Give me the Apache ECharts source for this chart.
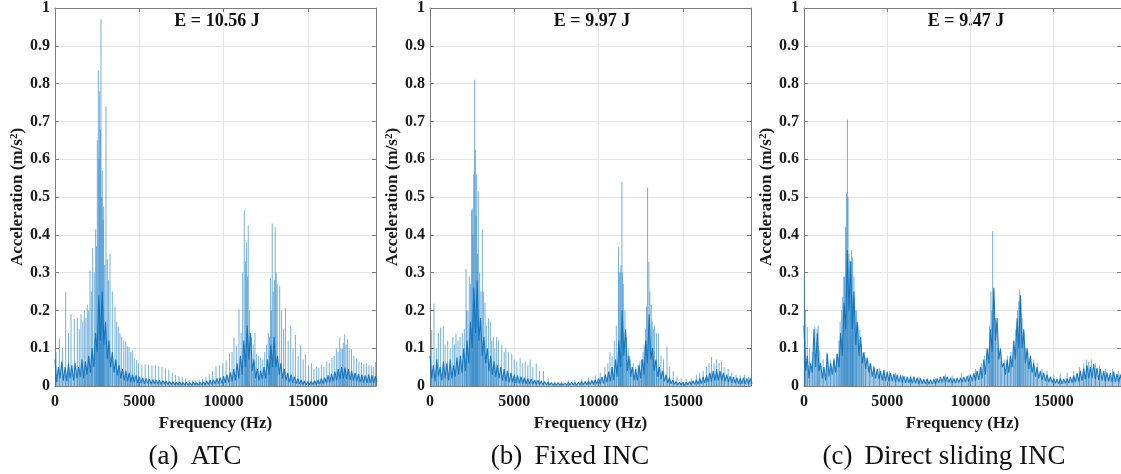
<!DOCTYPE html>
<html>
<head>
<meta charset="utf-8">
<script src="https://cdn.jsdelivr.net/npm/echarts@6/dist/echarts.min.js"></script>
<style>
  html, body { margin: 0; padding: 0; background: #ffffff; overflow: hidden; }
  #chart { width: 1121px; height: 474px; }
</style>
</head>
<body>
<div id="chart"></div>
<script>
// ---- spectrum data -------------------------------------------------------
// FFT bin spacing of the band traces (Hz) and the upper frequency limit
const BIN_HZ = 100;
const F_MAX = 19040;

// Broadband part of each spectrum, one value per 100 Hz bin (m/s^2)
const atcBand = [
  .07,.01,.05,.02,.065,.015,.05,.012,.06,.02,
  .055,.015,.06,.02,.05,.025,.07,.02,.065,.03,
  .08,.035,.1,.05,.14,.09,.24,.12,.25,.11,
  .17,.07,.12,.05,.09,.035,.07,.028,.055,.02,
  .045,.015,.04,.012,.035,.01,.03,.01,.028,.008,
  .025,.008,.022,.006,.02,.007,.018,.005,.017,.006,
  .016,.005,.015,.004,.014,.005,.013,.004,.012,.004,
  .011,.003,.01,.003,.011,.002,.009,.003,.01,.002,
  .009,.002,.01,.003,.009,.002,.01,.003,.011,.003,
  .013,.004,.015,.004,.017,.005,.02,.006,.022,.007,
  .026,.008,.03,.01,.036,.012,.045,.015,.06,.02,
  .08,.03,.12,.05,.16,.07,.14,.04,.07,.02,
  .045,.015,.04,.018,.05,.02,.07,.03,.11,.05,
  .13,.05,.08,.03,.06,.02,.045,.015,.035,.01,
  .03,.008,.025,.006,.02,.005,.016,.004,.013,.003,
  .012,.003,.012,.004,.014,.004,.016,.005,.02,.006,
  .022,.008,.028,.01,.032,.012,.038,.015,.045,.018,
  .05,.02,.048,.018,.045,.016,.04,.014,.035,.012,
  .032,.01,.03,.009,.028,.008,.03,.009,.028,.008,
  .026,.01
];

const fixedBand = [
  .08,.02,.055,.012,.07,.025,.05,.015,.065,.02,
  .06,.015,.07,.02,.055,.025,.075,.03,.08,.035,
  .1,.04,.12,.06,.17,.1,.26,.14,.28,.12,
  .18,.08,.13,.06,.1,.04,.08,.03,.065,.025,
  .055,.02,.05,.015,.045,.012,.04,.01,.035,.01,
  .03,.008,.028,.007,.025,.006,.022,.006,.02,.005,
  .018,.005,.016,.004,.015,.004,.013,.003,.012,.003,
  .01,.003,.009,.002,.008,.002,.009,.002,.008,.002,
  .008,.002,.009,.002,.01,.003,.009,.002,.01,.003,
  .011,.003,.012,.003,.013,.004,.015,.004,.017,.005,
  .02,.006,.024,.007,.03,.01,.038,.012,.05,.015,
  .07,.025,.12,.05,.2,.08,.15,.04,.08,.025,
  .05,.015,.045,.015,.055,.02,.07,.03,.12,.06,
  .19,.07,.1,.04,.07,.025,.05,.018,.04,.012,
  .03,.008,.022,.006,.016,.004,.012,.003,.01,.003,
  .009,.002,.01,.003,.012,.003,.014,.004,.016,.005,
  .02,.006,.024,.008,.028,.01,.035,.012,.04,.014,
  .045,.015,.04,.014,.035,.012,.03,.01,.026,.008,
  .024,.007,.022,.006,.02,.006,.022,.006,.02,.005,
  .02,.006
];

const slidingBand = [
  .16,.04,.08,.02,.06,.035,.15,.05,.14,.04,
  .06,.02,.05,.015,.085,.025,.06,.03,.07,.035,
  .085,.05,.14,.08,.22,.15,.36,.2,.33,.15,
  .25,.11,.17,.08,.13,.06,.09,.045,.075,.035,
  .06,.025,.05,.02,.045,.018,.04,.015,.042,.013,
  .038,.012,.035,.012,.032,.01,.03,.01,.028,.009,
  .026,.008,.025,.008,.024,.007,.025,.007,.022,.006,
  .02,.006,.018,.005,.019,.005,.017,.005,.018,.006,
  .02,.008,.024,.009,.026,.01,.025,.009,.022,.008,
  .02,.008,.021,.009,.022,.01,.024,.01,.026,.011,
  .03,.012,.034,.014,.04,.016,.05,.02,.07,.03,
  .1,.06,.15,.09,.26,.12,.18,.07,.1,.05,
  .06,.03,.07,.035,.08,.05,.12,.07,.18,.1,
  .24,.1,.15,.06,.1,.045,.08,.035,.06,.025,
  .05,.02,.04,.016,.035,.013,.03,.01,.025,.009,
  .02,.007,.018,.006,.02,.006,.019,.007,.02,.008,
  .024,.009,.028,.01,.034,.012,.04,.014,.046,.018,
  .055,.02,.05,.022,.058,.018,.048,.016,.045,.015,
  .04,.012,.036,.012,.034,.01,.038,.011,.032,.01,
  .03,.01
];

// Narrow spectral lines: [frequency (Hz), amplitude (m/s^2)]
const atcPeaks = [
  [60,.09],[257,.126],[450,.1],[632,.249],[800,.14],[949,.19],[1146,.177],[1324,.18],
  [1440,.15],[1542,.19],[1650,.17],[1740,.2],[1830,.18],[1917,.215],[2000,.2],[2075,.306],
  [2160,.25],[2233,.365],[2330,.3],[2411,.415],[2470,.37],[2510,.65],[2569,.835],[2610,.6],
  [2648,.78],[2690,.68],[2727,.97],[2770,.5],[2806,.57],[2850,.44],[2885,.475],[2950,.32],
  [3024,.74],[3103,.335],[3180,.28],[3262,.35],[3400,.25],[3558,.21],[3656,.17],[3756,.156],
  [3850,.14],[3953,.13],[4080,.12],[4190,.117],[4290,.105],[4388,.103],[4490,.09],[4586,.094],
  [4700,.075],[4843,.069],[4950,.06],[5150,.056],[5350,.057],[5550,.056],[5750,.055],[5950,.055],
  [6150,.053],[6350,.05],[6550,.047],[6750,.043],[6950,.036],[7150,.03],[7350,.026],[7550,.023],
  [7750,.02],[7950,.016],[8150,.015],[8350,.015],[8550,.017],[8750,.018],[8950,.024],[9150,.032],
  [9350,.04],[9550,.052],[9750,.055],[9950,.06],[10150,.068],[10350,.085],[10500,.09],[10617,.128],
  [10760,.105],[10913,.203],[11040,.14],[11130,.3],[11225,.465],[11300,.33],[11364,.38],[11410,.29],
  [11462,.425],[11540,.2],[11650,.13],[11760,.11],[11858,.14],[11960,.085],[12080,.08],[12200,.075],
  [12320,.07],[12440,.09],[12549,.11],[12650,.14],[12720,.13],[12786,.285],[12836,.2],[12885,.43],
  [12950,.25],[13031,.28],[13063,.42],[13120,.3],[13182,.27],[13327,.264],[13439,.2],[13560,.15],
  [13666,.206],[13830,.12],[13980,.16],[14120,.1],[14259,.135],[14420,.08],[14573,.108],[14720,.07],
  [14852,.084],[15030,.055],[15208,.06],[15360,.045],[15504,.05],[15650,.048],[15800,.057],[15950,.05],
  [16115,.065],[16270,.06],[16430,.074],[16560,.08],[16690,.1],[16790,.09],[16886,.127],[16960,.1],
  [17045,.098],[17100,.115],[17182,.137],[17260,.11],[17346,.124],[17450,.1],[17583,.098],[17730,.08],
  [17879,.072],[18030,.065],[18175,.062],[18320,.058],[18470,.06],[18620,.055],[18766,.055],[18880,.05],
  [19003,.063]
];

const fixedPeaks = [
  [100,.148],[237,.218],[380,.1],[494,.14],[632,.155],[790,.158],[900,.11],[1050,.12],
  [1200,.1],[1350,.13],[1450,.11],[1541,.139],[1660,.12],[1778,.13],[1917,.14],[2035,.15],
  [2138,.31],[2174,.2],[2250,.2],[2332,.29],[2410,.27],[2470,.465],[2510,.47],[2550,.4],
  [2589,.56],[2648,.81],[2688,.625],[2730,.45],[2767,.56],[2820,.35],[2866,.515],[2945,.3],
  [3020,.25],[3103,.415],[3167,.25],[3261,.22],[3340,.16],[3464,.179],[3577,.17],[3660,.12],
  [3755,.13],[3850,.1],[3953,.13],[4058,.12],[4250,.11],[4400,.09],[4500,.1],[4650,.09],
  [4850,.085],[5000,.07],[5150,.065],[5344,.075],[5500,.06],[5650,.065],[5800,.055],[5938,.07],
  [6100,.05],[6300,.06],[6500,.04],[6729,.04],[7016,.02],[7400,.012],[7800,.012],[8200,.015],
  [8600,.015],[9000,.018],[9400,.022],[9800,.028],[10100,.035],[10375,.05],[10550,.06],[10672,.09],
  [10800,.08],[10929,.12],[11050,.16],[11183,.367],[11225,.3],[11283,.3],[11324,.32],[11383,.54],
  [11420,.3],[11462,.27],[11561,.2],[11650,.13],[11759,.1],[11900,.07],[12055,.06],[12200,.05],
  [12350,.055],[12450,.065],[12549,.07],[12640,.09],[12707,.11],[12780,.15],[12846,.21],[12905,.525],
  [12984,.328],[13040,.25],[13123,.214],[13180,.17],[13241,.15],[13320,.16],[13439,.14],[13558,.139],
  [13700,.08],[13850,.07],[14055,.104],[14200,.05],[14427,.04],[14650,.025],[14900,.02],[15200,.018],
  [15500,.02],[15800,.03],[16000,.035],[16206,.04],[16400,.05],[16550,.06],[16700,.077],[16850,.06],
  [16996,.07],[17150,.06],[17292,.065],[17450,.05],[17688,.045],[17900,.035],[18150,.03],[18400,.028],
  [18650,.03],[18900,.025]
];

const slidingPeaks = [
  [20,.29],[80,.2],[197,.157],[330,.1],[500,.09],[651,.157],[789,.15],[850,.16],
  [947,.095],[1150,.07],[1381,.089],[1600,.07],[1800,.075],[1973,.085],[2100,.12],[2170,.17],
  [2260,.2],[2328,.236],[2392,.29],[2427,.289],[2490,.42],[2549,.51],[2608,.705],[2647,.5],
  [2706,.35],[2760,.33],[2804,.3],[2860,.36],[2920,.34],[2941,.24],[3000,.29],[3078,.2],
  [3157,.2],[3250,.16],[3354,.148],[3450,.11],[3552,.087],[3700,.075],[3947,.06],[4200,.055],
  [4538,.047],[4800,.04],[5131,.04],[5500,.035],[5920,.03],[6400,.028],[6907,.025],[7400,.02],
  [7893,.02],[8485,.03],[8900,.028],[9470,.035],[9900,.03],[10300,.045],[10651,.06],[10850,.08],
  [11047,.1],[11150,.16],[11230,.25],[11284,.2],[11330,.41],[11400,.25],[11500,.18],[11638,.1],
  [11834,.067],[12050,.07],[12230,.08],[12420,.09],[12604,.1],[12720,.15],[12822,.2],[12900,.225],
  [12950,.255],[13018,.23],[13100,.18],[13200,.14],[13314,.1],[13450,.09],[13610,.08],[13800,.07],
  [14005,.06],[14300,.045],[14597,.04],[15000,.03],[15385,.033],[15800,.035],[16200,.04],[16550,.05],
  [16800,.06],[16963,.07],[17100,.065],[17260,.07],[17500,.06],[17751,.055],[18100,.045],[18538,.045],
  [18900,.04]
];

// Panel texts
const energyLabels = ['E = 10.56 J', 'E = 9.97 J', 'E = 9.47 J'];
const captions = ['(a)\u2009 ATC', '(b)\u2009 Fixed INC', '(c)\u2009 Direct sliding INC'];
const xTickStep = 5000;   // Hz
const yTickStep = 0.1;    // m/s^2
const xAxisTitle = 'Frequency (Hz)';
const yAxisTitle = 'Acceleration (m/s{sup|2})';

const bands = [atcBand, fixedBand, slidingBand];
const peaks = [atcPeaks, fixedPeaks, slidingPeaks];

// ---- layout ------------------------------------------------------------------
const PLOT_LEFT = [55, 430, 804];
const PLOT_W = 321, PLOT_TOP = 7, PLOT_H = 379;

const SERIF = '"Liberation Serif", "Times New Roman", serif';
const AXIS_COLOR = '#7d7d7d';
const GRID_COLOR = '#e6e6e6';
const TRACE = '#0a6fba';

const grids = [], xAxes = [], yAxes = [], series = [], graphics = [];

PLOT_LEFT.forEach((left, i) => {
  grids.push({ left: left, top: PLOT_TOP, width: PLOT_W, height: PLOT_H, containLabel: false });

  const tickStyle = { inside: true, length: 4, lineStyle: { color: AXIS_COLOR, width: 1 } };
  const lineStyle = { show: true, onZero: false, lineStyle: { color: AXIS_COLOR, width: 1 } };

  xAxes.push({
    gridIndex: i, type: 'value', position: 'bottom',
    min: 0, max: F_MAX, interval: xTickStep,
    name: xAxisTitle, nameLocation: 'middle', nameGap: 25,
    nameTextStyle: { fontFamily: SERIF, fontWeight: 'bold', fontSize: 17, color: '#1a1a1a' },
    axisLine: lineStyle, axisTick: tickStyle,
    axisLabel: { margin: 8, showMaxLabel: false, formatter: v => String(v),
                 fontFamily: SERIF, fontWeight: 'bold', fontSize: 16, color: '#1a1a1a' },
    splitLine: { show: true, lineStyle: { color: GRID_COLOR, width: 1 } }
  });
  xAxes.push({
    gridIndex: i, type: 'value', position: 'top',
    min: 0, max: F_MAX, interval: xTickStep,
    axisLine: lineStyle, axisTick: tickStyle,
    axisLabel: { show: false }, splitLine: { show: false }
  });

  yAxes.push({
    gridIndex: i, type: 'value', position: 'left',
    min: 0, max: 1, interval: yTickStep,
    name: yAxisTitle, nameLocation: 'middle', nameGap: 26, nameRotate: 90,
    nameTextStyle: { fontFamily: SERIF, fontWeight: 'bold', fontSize: 17, color: '#1a1a1a',
                     rich: { sup: { fontFamily: SERIF, fontWeight: 'bold', fontSize: 11,
                                    color: '#1a1a1a', verticalAlign: 'top', padding: [0, 0, 6, 0] } } },
    axisLine: lineStyle, axisTick: tickStyle,
    axisLabel: { margin: 5, fontFamily: SERIF, fontWeight: 'bold', fontSize: 16, color: '#1a1a1a' },
    splitLine: { show: true, lineStyle: { color: GRID_COLOR, width: 1 } }
  });
  yAxes.push({
    gridIndex: i, type: 'value', position: 'right',
    min: 0, max: 1, interval: yTickStep,
    axisLine: lineStyle, axisTick: tickStyle,
    axisLabel: { show: false }, splitLine: { show: false }
  });

  // narrow lines of the spectrum
  series.push({
    type: 'bar', xAxisIndex: 2 * i, yAxisIndex: 2 * i,
    data: peaks[i], barWidth: 1, clip: true, silent: true, z: 2,
    itemStyle: { color: 'rgba(30,128,200,0.62)' }
  });
  // broadband trace
  series.push({
    type: 'line', xAxisIndex: 2 * i, yAxisIndex: 2 * i,
    data: bands[i].map((v, k) => [k * BIN_HZ, v]),
    showSymbol: false, symbol: 'none', clip: true, silent: true, z: 3,
    lineStyle: { color: TRACE, width: 1.1, opacity: 0.9 },
    areaStyle: { color: 'rgba(10,111,186,0.55)' }
  });

  graphics.push({
    type: 'text', x: left + 162, y: 21, silent: true,
    style: { text: energyLabels[i], fontFamily: SERIF, fontWeight: 'bold', fontSize: 18,
             fill: '#111', align: 'center', verticalAlign: 'middle',
             textAlign: 'center', textVerticalAlign: 'middle' }
  });
  graphics.push({
    type: 'text', x: left + 140, y: 457, silent: true,
    style: { text: captions[i], fontFamily: SERIF, fontSize: 27,
             fill: '#111', align: 'center', verticalAlign: 'middle',
             textAlign: 'center', textVerticalAlign: 'middle' }
  });
});

const chart = echarts.init(document.getElementById('chart'), null, { renderer: 'canvas' });
chart.setOption({
  animation: false,
  backgroundColor: '#ffffff',
  grid: grids,
  xAxis: xAxes,
  yAxis: yAxes,
  series: series,
  graphic: graphics
});
</script>
</body>
</html>
